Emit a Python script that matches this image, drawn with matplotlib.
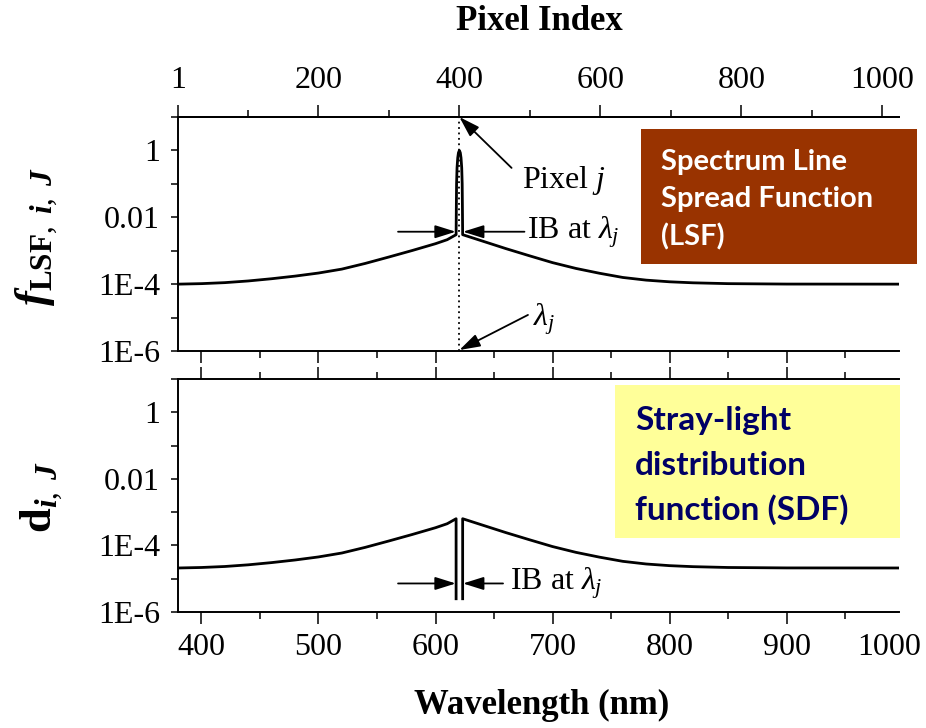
import numpy as np
import matplotlib
matplotlib.use("Agg")
import matplotlib.pyplot as plt
from matplotlib.ticker import FixedLocator, MultipleLocator, NullFormatter, FixedFormatter
from matplotlib.patches import Rectangle
from matplotlib.transforms import offset_copy

plt.rcParams.update({
    "font.family": ["Liberation Serif", "DejaVu Serif"],
    "mathtext.fontset": "custom",
    "mathtext.rm": "Liberation Serif",
    "mathtext.it": "Liberation Serif:italic",
    "mathtext.bf": "Liberation Serif:bold",
    "mathtext.bfit": "Liberation Serif:italic:bold",
    "axes.linewidth": 1.4,
})

# Detector wavelength calibration
first_pixel_nm = 380.0
nm_per_pixel = 0.6025
pixel_j = 400
lambda_j = first_pixel_nm + (pixel_j - 1) * nm_per_pixel

# Line spread function: out-of-band wings and in-band peak
lsf_left_nm = [380, 400, 420, 440, 460, 480, 500, 520, 540, 560, 580, 600, 610, 617.6]
lsf_left = [1.000e-4, 1.035e-4, 1.109e-4, 1.245e-4, 1.452e-4, 1.738e-4, 2.148e-4,
            2.818e-4, 4.169e-4, 6.457e-4, 1.012e-3, 1.622e-3, 2.138e-3, 3.02e-3]
lsf_peak_nm = [617.8, 618.0, 618.4, 619.0, 619.6, 620.4, 621.2, 621.8, 622.4, 622.8, 623.0]
lsf_peak = [0.02, 0.1, 0.3, 0.6, 0.85, 1.0, 0.85, 0.6, 0.3, 0.1, 0.02]
lsf_right_nm = [623.2, 640, 660, 680, 700, 720, 740, 760, 780, 800, 820, 850, 900, 1000]
lsf_right = [3.02e-3, 1.95e-3, 1.16e-3, 7.1e-4, 4.4e-4, 2.95e-4, 2.12e-4,
             1.585e-4, 1.318e-4, 1.175e-4, 1.096e-4, 1.035e-4, 1.005e-4, 1.0e-4]

# Stray-light distribution: out-of-band LSF normalised, in-band set to zero
sdf_norm = 0.21
sdf_floor = 2.5e-6

wl_ticks = [400, 500, 600, 700, 800, 900]
wl_end_label = "1000"
pixel_ticks = [1, 200, 400, 600, 800, 1000]
pixel_minor = [100, 300, 500, 700, 900]
y_ticks = [1e-6, 1e-5, 1e-4, 1e-3, 1e-2, 1e-1, 1, 10]
y_labels = ["1E-6", "", "1E-4", "", "0.01", "", "1", ""]

W, H = 926, 728
fig = plt.figure(figsize=(W / 100, H / 100), dpi=100)


def fx(px):
    return px / W


def fy(py):
    return 1 - py / H


ax1 = fig.add_axes([fx(178), fy(351), (899 - 178) / W, (351 - 117) / H])
ax2 = fig.add_axes([fx(178), fy(612), (899 - 178) / W, (612 - 379) / H])

lw_curve = 2.0
# LSF curve
lsf_nm = lsf_left_nm + lsf_peak_nm + lsf_right_nm
lsf_val = lsf_left + lsf_peak + lsf_right
ax1.plot(lsf_nm, lsf_val, color="k", lw=lw_curve)
ax1.axvline(lambda_j, color="k", lw=1.3, ls=(0, (1, 2)))

# SDF curve, broken across the in-band region
sdf_left = [v * sdf_norm for v in lsf_left] + [sdf_floor]
sdf_right = [sdf_floor] + [v * sdf_norm for v in lsf_right]
ax2.plot(lsf_left_nm + [lsf_left_nm[-1]], sdf_left, color="k", lw=lw_curve)
ax2.plot([lsf_right_nm[0]] + lsf_right_nm, sdf_right, color="k", lw=lw_curve)

for ax in (ax1, ax2):
    ax.set_yscale("log")
    ax.set_ylim(1e-6, 10)
    ax.set_xlim(380, 996)
    ax.yaxis.set_major_locator(FixedLocator(y_ticks))
    ax.yaxis.set_major_formatter(FixedFormatter(y_labels))
    ax.yaxis.set_minor_locator(FixedLocator([]))
    ax.tick_params(axis="y", which="major", direction="out", length=5, width=1.1,
                   labelsize=23, pad=8, right=False)
    ax.xaxis.set_major_locator(FixedLocator(wl_ticks))
    ax.xaxis.set_minor_locator(MultipleLocator(50))
    ax.tick_params(axis="x", which="major", direction="out", length=8.5, width=1.1,
                   labelsize=23, pad=6.5)
    ax.tick_params(axis="x", which="minor", direction="out", length=5, width=1.1)
    ax.spines["right"].set_visible(False)
    ax.set_facecolor("none")

ax1.tick_params(axis="x", which="both", top=False, bottom=True, labelbottom=False)
ax2.tick_params(axis="x", which="both", top=True, bottom=True, labeltop=False)

# last wavelength label sits just inside the right end of the axis
end_tr = offset_copy(ax2.transAxes, fig=fig, y=-15, units="points")
ax2.text((889 - 178) / (899 - 178), 0, wl_end_label, transform=end_tr,
         ha="center", va="top", fontsize=23)


def nm_to_pixel(nm):
    return 1 + (np.asarray(nm) - first_pixel_nm) / nm_per_pixel


def pixel_to_nm(p):
    return first_pixel_nm + (np.asarray(p) - 1) * nm_per_pixel


sec = ax1.secondary_xaxis("top", functions=(nm_to_pixel, pixel_to_nm))
sec.xaxis.set_major_locator(FixedLocator(pixel_ticks))
sec.xaxis.set_minor_locator(FixedLocator(pixel_minor))
sec.xaxis.set_major_formatter(FixedFormatter([str(p) for p in pixel_ticks]))
sec.xaxis.set_minor_formatter(NullFormatter())
sec.tick_params(axis="x", which="major", direction="out", length=8.5, width=1.1,
                labelsize=23, pad=7)
sec.tick_params(axis="x", which="minor", direction="out", length=5, width=1.1)
sec.spines["top"].set_linewidth(1.4)

# Axis titles
fig.text(fx(539), fy(22), "Pixel Index", ha="center", va="center",
         fontsize=25, fontweight="bold")
fig.text(fx(542), fy(705), "Wavelength (nm)", ha="center", va="center",
         fontsize=25, fontweight="bold")
fig.text(fx(37), fy(237), r"$\mathbfit{f}_{\mathbf{LSF},\ \mathbfit{i},\ \mathbfit{J}}$",
         rotation=90, ha="center", va="center", fontsize=32)
fig.text(fx(42), fy(497), r"$\mathbf{d}_{\mathbfit{i},\ \mathbfit{J}}$",
         rotation=90, ha="center", va="center", fontsize=32)

# Annotations
arrow = dict(arrowstyle="-|>,head_length=0.7,head_width=0.22", color="k", lw=1.3,
             shrinkA=0, shrinkB=0, mutation_scale=18)
ib_lo, ib_hi = lsf_left_nm[-1], lsf_right_nm[0]

ax1.annotate("", xy=(lambda_j, 10), xytext=(665, 0.30), arrowprops=arrow)
ax1.text(674, 0.13, r"Pixel $j$", fontsize=23, va="center", ha="left")
ax1.annotate("", xy=(ib_lo - 0.3, 3.7e-3), xytext=(568, 3.7e-3), arrowprops=arrow)
ax1.annotate("", xy=(ib_hi + 0.3, 3.7e-3), xytext=(676, 3.7e-3), arrowprops=arrow)
ax1.text(678, 3.7e-3, r"IB at $\lambda_j$", fontsize=23, va="center", ha="left")
ax1.annotate("", xy=(lambda_j, 1.07e-6), xytext=(679, 1.2e-5), arrowprops=arrow)
ax1.text(683, 9e-6, r"$\lambda_j$", fontsize=23, va="center", ha="left")

ax2.annotate("", xy=(ib_lo - 0.3, 7.2e-6), xytext=(568, 7.2e-6), arrowprops=arrow)
ax2.annotate("", xy=(ib_hi + 0.3, 7.2e-6), xytext=(657.7, 7.2e-6), arrowprops=arrow)
ax2.text(663.6, 7.2e-6, r"IB at $\lambda_j$", fontsize=23, va="center", ha="left")

# Labelled boxes
fig.add_artist(Rectangle((fx(641), fy(264)), (917 - 641) / W, (264 - 129) / H,
                         transform=fig.transFigure, facecolor="#993300",
                         edgecolor="none", zorder=2))
for txt, base in zip(["Spectrum Line", "Spread Function", "(LSF)"], [170, 207, 245]):
    fig.text(fx(661), fy(base), txt, ha="left", va="baseline", color="white",
             fontsize=21, fontweight="bold", family=["Lato", "DejaVu Sans"], zorder=3)

fig.add_artist(Rectangle((fx(615), fy(538)), (900 - 615) / W, (538 - 385) / H,
                         transform=fig.transFigure, facecolor="#FFFF99",
                         edgecolor="none", zorder=2))
for txt, base in zip(["Stray-light", "distribution", "function (SDF)"], [430, 475, 520]):
    fig.text(fx(635), fy(base), txt, ha="left", va="baseline", color="#000066",
             fontsize=24, fontweight="bold", family=["Lato", "DejaVu Sans"], zorder=3)

fig.savefig("out.png", dpi=100)
